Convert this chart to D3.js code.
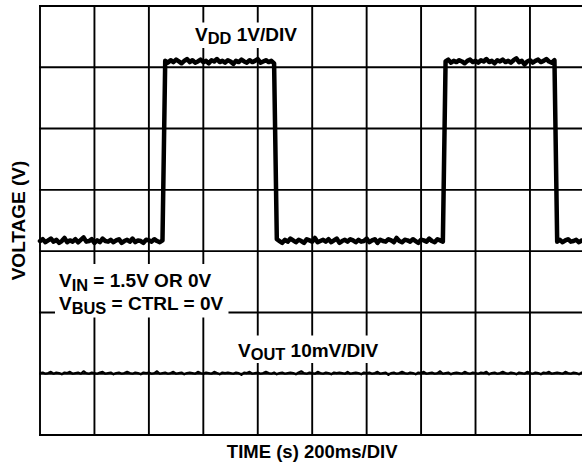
<!DOCTYPE html>
<html>
<head>
<meta charset="utf-8">
<script src="https://cdn.jsdelivr.net/npm/d3@7"></script>
<style>
  html, body { margin: 0; padding: 0; background: #fff; }
  svg { display: block; }
  text { font-family: "Liberation Sans", Arial, Helvetica, sans-serif; font-weight: bold; fill: #000; }
</style>
</head>
<body>
<svg id="chart" width="582" height="467"></svg>
<script>
// Scope capture: V_DD (1V/DIV) and V_OUT (10mV/DIV), 200ms/DIV, sampled every 10 ms.
const sampleStepMs = 10;
const timeDivMs = 200;
const timeDivs = d3.range(0, 11);       // 10 horizontal divisions
const voltDivs = d3.range(0, 8);        // 7 vertical divisions

// V_DD trace in volts, split into its low/high plateaus
const vddLow1  = [0.00, 0.03, -0.02, 0.01, 0.04, -0.01, 0.02, -0.03, 0.00, 0.05,
                  -0.02, 0.01, -0.01, 0.03, -0.02, 0.02, 0.06, -0.01, 0.00, 0.03,
                  -0.03, 0.01, -0.02, 0.04, 0.00, -0.01, 0.02, -0.02, 0.01, 0.03,
                  -0.03, 0.00, 0.02, -0.01, 0.04, -0.02, 0.01, 0.00, -0.03, 0.02,
                  0.01, -0.01, 0.03, 0.00, -0.02, 0.01];
const vddHigh1 = [2.94, 2.91, 2.95, 2.92, 2.96, 2.93, 2.90, 2.94, 2.97, 2.92,
                  2.95, 2.91, 2.93, 2.96, 2.92, 2.94, 2.90, 2.95, 2.93, 2.97,
                  2.92, 2.94, 2.91, 2.95, 2.93, 2.89, 2.94, 2.92, 2.96, 2.93,
                  2.91, 2.95, 2.92, 2.94, 2.97, 2.91, 2.93, 2.95, 2.92, 2.94,
                  2.90];
const vddLow2  = [0.03, 0.00, -0.03, 0.02, -0.01, 0.04, 0.01, -0.02, 0.02, 0.00,
                  -0.03, 0.03, 0.01, -0.01, 0.05, -0.02, 0.00, 0.02, -0.01, 0.03,
                  -0.02, 0.01, 0.04, -0.03, 0.00, 0.02, -0.01, 0.03, 0.01, -0.02,
                  0.02, -0.01, 0.00, 0.04, -0.02, 0.01, 0.03, -0.03, 0.02, 0.00,
                  -0.01, 0.03, 0.01, -0.02, 0.05, 0.00, -0.02, 0.02, 0.01, -0.01,
                  0.03, 0.00, -0.03, 0.02, 0.01, -0.01, 0.04, 0.00, -0.02, 0.03,
                  0.01, -0.01];
const vddHigh2 = [2.93, 2.96, 2.91, 2.94, 2.92, 2.95, 2.93, 2.90, 2.94, 2.96,
                  2.92, 2.94, 2.91, 2.95, 2.93, 2.97, 2.92, 2.94, 2.90, 2.95,
                  2.93, 2.96, 2.92, 2.94, 2.91, 2.95, 2.98, 2.92, 2.94, 2.88,
                  2.93, 2.95, 2.91, 2.94, 2.96, 2.92, 2.94, 2.97, 2.93, 2.91,
                  2.95];
const vddLow3  = [-0.01, 0.02, -0.02, 0.01, 0.03, -0.01, 0.00, 0.02, -0.02, 0.01, 0.00];

// V_OUT trace in millivolts
const voutMv = [
  0.0, 0.1, -0.1, 0.0, 0.2, -0.1, 0.1, 0.0, -0.2, 0.1,
  0.0, 0.2, -0.1, 0.0, 0.1, -0.1, 0.3, 0.0, -0.1, 0.1,
  0.0, -0.1, 0.1, 0.2, -0.1, 0.0, 0.1, -0.2, 0.0, 0.1,
  -0.1, 0.0, 0.2, 0.0, -0.1, 0.1, 0.0, -0.2, 0.1, 0.0,
  0.1, -0.1, 0.0, 0.3, -0.1, 0.0, 0.1, -0.1, 0.0, 0.2,
  -0.1, 0.0, 0.1, -0.2, 0.0, 0.1, 0.0, -0.1, 0.2, 0.0,
  -0.1, 0.1, 0.0, -0.1, 0.2, 0.0, -0.2, 0.1, 0.0, 0.1,
  0.0, -0.1, 0.1, 0.0, -0.3, 0.1, 0.0, 0.2, -0.1, 0.0,
  0.1, -0.1, 0.0, 0.2, 0.0, -0.1, 0.1, -0.2, 0.0, 0.1,
  -0.1, 0.0, 0.1, 0.0, -0.2, 0.1, 0.3, 0.0, -0.1, 0.1,
  0.0, -0.1, 0.2, 0.0, -0.1, 0.1, 0.0, -0.2, 0.1, 0.0,
  0.1, 0.0, -0.1, 0.2, -0.1, 0.0, 0.1, 0.0, -0.2, 0.1,
  0.0, 0.1, -0.1, 0.0, 0.2, -0.1, 0.0, 0.1, -0.3, 0.0,
  0.1, -0.1, 0.0, 0.2, 0.0, -0.1, 0.1, 0.0, -0.2, 0.1,
  0.0, 0.2, -0.1, 0.0, 0.1, -0.1, 0.0, 0.3, -0.1, 0.0,
  0.1, -0.2, 0.0, 0.1, 0.0, -0.1, 0.2, 0.0, -0.1, 0.1,
  0.0, -0.1, 0.1, 0.0, 0.2, -0.2, 0.0, 0.1, -0.1, 0.0,
  0.2, 0.0, -0.1, 0.1, 0.0, -0.2, 0.1, 0.0, -0.1, 0.2,
  0.0, -0.1, 0.1, 0.0, -0.2, 0.1, 0.0, 0.2, -0.1, 0.0,
  0.1, 0.0, -0.1, 0.2, 0.0, -0.1, 0.1, 0.0, -0.2, 0.1,
  0.0];

// Channel settings: volts per division and ground position (in divisions from bottom)
const vddVoltsPerDiv = 1;
const vddGroundDiv = 3.165;
const voutMvPerDiv = 10;
const voutGroundDiv = 1.01;

const vddVolts = [].concat(vddLow1, vddHigh1, vddLow2, vddHigh2, vddLow3);

const svg = d3.select("#chart");
const plotLeft = 40, plotTop = 6, plotBottom = 435;
const divW = 54.44;

const x = d3.scaleLinear().domain([0, 10 * timeDivMs]).range([plotLeft, plotLeft + 10 * divW]);
const y = d3.scaleLinear().domain([0, 7]).range([plotBottom, plotTop]);

// graticule
const grid = svg.append("g").attr("stroke", "#000").attr("stroke-width", 1.9);
grid.selectAll("line.v").data(timeDivs).join("line")
  .attr("class", "v")
  .attr("x1", d => x(d * timeDivMs)).attr("x2", d => x(d * timeDivMs))
  .attr("y1", y(0) + 0.95).attr("y2", y(7) - 0.95);
grid.selectAll("line.h").data(voltDivs).join("line")
  .attr("class", "h")
  .attr("y1", d => y(d)).attr("y2", d => y(d))
  .attr("x1", x(0) - 0.95).attr("x2", x(10 * timeDivMs));

// labels with white panels that mask the graticule
const labels = svg.append("g");
const labelSize = 19, subSize = 16.4, subShift = 3.5;

function subLabel(g, px, py, main, sub, rest) {
  const t = g.append("text").attr("x", px).attr("y", py).attr("font-size", labelSize);
  t.append("tspan").text(main);
  t.append("tspan").attr("font-size", subSize).attr("dy", subShift).text(sub);
  t.append("tspan").attr("dy", -subShift).text(rest);
  return t;
}

function panel(g, nodes, pad) {
  const boxes = nodes.map(n => n.node().getBBox());
  const x0 = d3.min(boxes, b => b.x) - pad[3];
  const y0 = d3.min(boxes, b => b.y) - pad[0];
  const x1 = d3.max(boxes, b => b.x + b.width) + pad[1];
  const y1 = d3.max(boxes, b => b.y + b.height) + pad[2];
  g.insert("rect", ":first-child")
    .attr("x", x0).attr("y", y0).attr("width", x1 - x0).attr("height", y1 - y0)
    .attr("fill", "#fff");
}

const gVdd = labels.append("g");
const tVdd = subLabel(gVdd, 195, 40.5, "V", "DD", " 1V/DIV");
panel(gVdd, [tVdd], [1, 4, 1, 4]);

const gIn = labels.append("g");
const tIn = subLabel(gIn, 59, 287, "V", "IN", " = 1.5V OR 0V");
const tBus = subLabel(gIn, 59, 310, "V", "BUS", " = CTRL = 0V");
panel(gIn, [tIn, tBus], [6, 5, 1, 4]);

const gOut = labels.append("g");
const tOut = subLabel(gOut, 238, 356.5, "V", "OUT", " 10mV/DIV");
panel(gOut, [tOut], [4, 4, 0, 4]);

// axis titles
svg.append("text")
  .attr("transform", `translate(25,${(plotTop + plotBottom) / 2}) rotate(-90)`)
  .attr("text-anchor", "middle").attr("font-size", 19)
  .text("VOLTAGE (V)");
svg.append("text")
  .attr("x", x(5 * timeDivMs)).attr("y", 458)
  .attr("text-anchor", "middle").attr("font-size", 18.5)
  .text("TIME (s) 200ms/DIV");

// traces
const vddLine = d3.line()
  .x((d, i) => x(i * sampleStepMs))
  .y(d => y(vddGroundDiv + d / vddVoltsPerDiv));
const voutLine = d3.line()
  .x((d, i) => x(i * sampleStepMs))
  .y(d => y(voutGroundDiv + d / voutMvPerDiv));

svg.append("path").datum(voutMv)
  .attr("d", voutLine)
  .attr("fill", "none").attr("stroke", "#000").attr("stroke-width", 2.2)
  .attr("stroke-linejoin", "round");

svg.append("path").datum(vddVolts)
  .attr("d", vddLine)
  .attr("fill", "none").attr("stroke", "#000").attr("stroke-width", 4.5)
  .attr("stroke-linejoin", "round").attr("stroke-linecap", "round");
</script>
</body>
</html>
